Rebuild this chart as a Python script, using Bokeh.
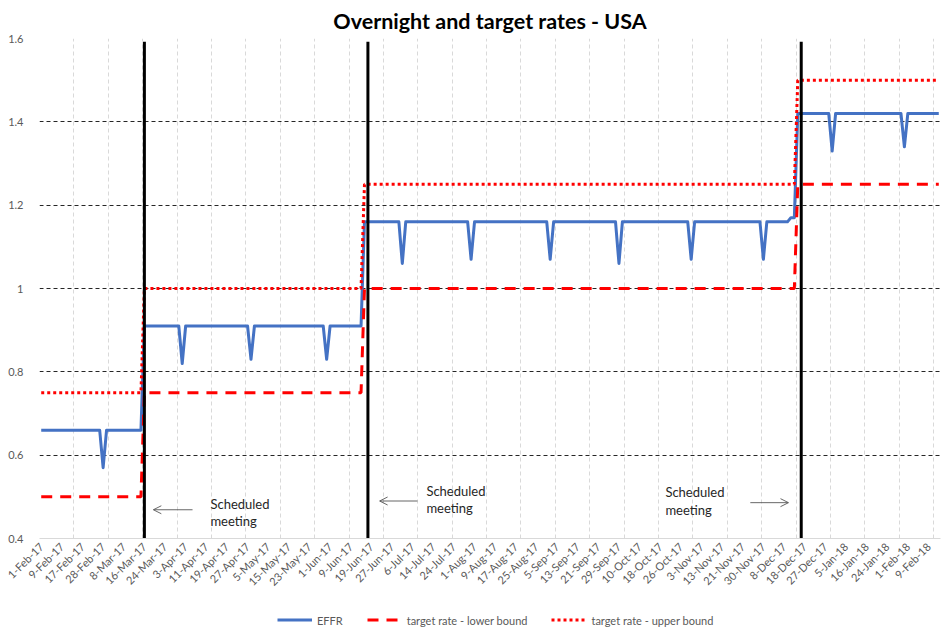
import pandas as pd
from bokeh.plotting import figure
from bokeh.layouts import column
from bokeh.models import (Range1d, FixedTicker, Legend, LegendItem, Arrow,
                          OpenHead, ColumnDataSource)
from bokeh.embed import file_html
from bokeh.resources import INLINE
from bokeh.core.properties import value

# ---------------- data ----------------
first_day = "2017-02-01"
last_day = "2018-02-14"
fed_holidays = ["2017-02-20", "2017-05-29", "2017-07-04", "2017-09-04",
                "2017-10-09", "2017-11-23", "2017-12-25", "2018-01-01",
                "2018-01-15"]
days = pd.bdate_range(first_day, last_day, freq="C", holidays=fed_holidays)
categories = [f"{d.day}-{d.strftime('%b-%y')}" for d in days]

# EFFR: level changes and single-day (month-end) dips
effr_level_dates = ["1-Feb-17", "16-Mar-17", "15-Jun-17", "12-Dec-17", "14-Dec-17"]
effr_level_values = [0.66, 0.91, 1.16, 1.17, 1.42]
effr_dip_dates = ["28-Feb-17", "31-Mar-17", "28-Apr-17", "31-May-17",
                  "30-Jun-17", "31-Jul-17", "31-Aug-17", "29-Sep-17",
                  "31-Oct-17", "30-Nov-17", "29-Dec-17", "31-Jan-18"]
effr_dip_values = [0.57, 0.82, 0.83, 0.83, 1.06, 1.07, 1.07, 1.06,
                   1.07, 1.07, 1.33, 1.34]

# target range
target_dates = ["1-Feb-17", "16-Mar-17", "15-Jun-17", "14-Dec-17"]
lower_values = [0.50, 0.75, 1.00, 1.25]
upper_values = [0.75, 1.00, 1.25, 1.50]

# FOMC meeting markers
meeting_dates = ["16-Mar-17", "16-Jun-17", "15-Dec-17"]

series_names = ["EFFR", "target rate - lower bound", "target rate - upper bound"]

y_ticks = [0.4, 0.6, 0.8, 1.0, 1.2, 1.4, 1.6]
y_tick_labels = ["0.4", "0.6", "0.8", "1", "1.2", "1.4", "1.6"]

# ---------------- build daily series ----------------
pos = {c: i for i, c in enumerate(categories)}
n = len(categories)
x = list(range(n))


def step_series(change_dates, vals):
    out = []
    k = 0
    starts = [pos[d] for d in change_dates]
    for i in range(n):
        while k + 1 < len(starts) and i >= starts[k + 1]:
            k += 1
        out.append(vals[k])
    return out


effr = step_series(effr_level_dates, effr_level_values)
for d, v in zip(effr_dip_dates, effr_dip_values):
    effr[pos[d]] = v
lower = step_series(target_dates, lower_values)
upper = step_series(target_dates, upper_values)

src = ColumnDataSource(dict(x=x, effr=effr, lower=lower, upper=upper))

# ---------------- styles ----------------
FONT = "Lato"
styles = [dict(line_color="#4472C4", line_width=3, line_join="round"),
          dict(line_color="#FF0000", line_width=3, line_dash="11 8"),
          dict(line_color="#FF0000", line_width=3, line_dash="3 3")]

# ---------------- main figure ----------------
p = figure(frame_width=901, frame_height=500, output_backend="svg",
           toolbar_location=None, x_range=Range1d(-0.5, n - 0.5),
           y_range=Range1d(0.4, 1.6), min_border_left=39,
           min_border_right=1, min_border_top=0, min_border_bottom=72)
p.outline_line_color = None
p.background_fill_color = "white"

p.title.text = "Overnight and target rates - USA"
p.title.align = "center"
p.title.text_font = FONT
p.title.text_font_size = "21.5px"
p.title.text_font_style = "bold"
p.title.text_color = "black"
p.title.standoff = 10

p.yaxis.ticker = FixedTicker(ticks=y_ticks)
p.yaxis.major_label_overrides = {t: l for t, l in zip(y_ticks, y_tick_labels)}
p.yaxis.axis_line_color = None
p.yaxis.major_tick_line_color = None
p.yaxis.minor_tick_line_color = None
p.yaxis.major_label_text_font = FONT
p.yaxis.major_label_text_font_size = "11px"
p.yaxis.major_label_text_color = "#595959"
p.yaxis.major_label_standoff = 10

label_ticks = list(range(0, n, 6))
p.xaxis.ticker = FixedTicker(ticks=label_ticks)
p.xaxis.major_label_overrides = {i: categories[i] for i in label_ticks}
p.xaxis.major_label_orientation = 0.785398
p.xaxis.axis_line_color = "#d9d9d9"
p.xaxis.major_tick_line_color = None
p.xaxis.minor_tick_line_color = None
p.xaxis.major_tick_in = 0
p.xaxis.major_tick_out = 0
p.xaxis.major_label_text_font = FONT
p.xaxis.major_label_text_font_size = "11px"
p.xaxis.major_label_text_color = "#595959"
p.xaxis.major_label_standoff = 6

p.xgrid.ticker = FixedTicker(ticks=[i - 0.5 for i in range(0, n + 1, 10)])
p.xgrid.grid_line_color = "#d9d9d9"
p.xgrid.grid_line_dash = "4 3"
p.ygrid.ticker = FixedTicker(ticks=y_ticks[1:])
p.ygrid.grid_line_color = "#262626"
p.ygrid.grid_line_dash = "4 3"

for col, st in zip(["effr", "lower", "upper"], styles):
    p.line("x", col, source=src, **st)

mx = [pos[d] for d in meeting_dates]
p.segment(x0=mx, y0=[1.592] * 3, x1=mx, y1=[0.39] * 3, line_color="black",
          line_width=3)

ann_x = [49.2, 112.0, 181.5]
ann_y1 = [0.483, 0.514, 0.512]
ann_y2 = [0.442, 0.474, 0.469]
p.text(x=ann_x, y=ann_y1, text=["Scheduled"] * 3, text_font=value(FONT),
       text_font_size="13px", text_color="#262626", text_baseline="middle")
p.text(x=ann_x, y=ann_y2, text=["meeting"] * 3, text_font=value(FONT),
       text_font_size="13px", text_color="#262626", text_baseline="middle")

arrow_tail_x = [44.0, 109.4, 206.2]
arrow_head_x = [32.6, 98.4, 217.3]
arrow_y = [0.469, 0.490, 0.486]
for x0, x1, yy in zip(arrow_tail_x, arrow_head_x, arrow_y):
    p.add_layout(Arrow(end=OpenHead(size=8, line_width=0.8, line_color="#404040"),
                       x_start=x0, y_start=yy, x_end=x1, y_end=yy,
                       line_width=0.8, line_color="#404040"))

# ---------------- legend strip (own small figure) ----------------
lg = figure(width=941, height=19, output_backend="svg", toolbar_location=None,
            x_range=Range1d(0, 1), y_range=Range1d(0, 1),
            min_border_left=0, min_border_right=0, min_border_top=0,
            min_border_bottom=0)
lg.outline_line_color = None
lg.axis.visible = False
lg.grid.visible = False
items = []
for name, st in zip(series_names, styles):
    # legend-only renderer, kept outside the visible range
    r = lg.line([5, 6], [5, 5], **st)
    items.append(LegendItem(label=name, renderers=[r]))
legend = Legend(items=items, orientation="horizontal", location="center_left",
                glyph_width=35, glyph_height=12, label_height=12,
                label_standoff=5, spacing=24,
                border_line_color=None, background_fill_alpha=0,
                label_text_font=FONT, label_text_font_size="11px",
                label_text_color="#595959", padding=0, margin=238)
lg.add_layout(legend, "center")

layout = column(p, lg, spacing=0)
open("out.html", "w").write(file_html(layout, INLINE))
